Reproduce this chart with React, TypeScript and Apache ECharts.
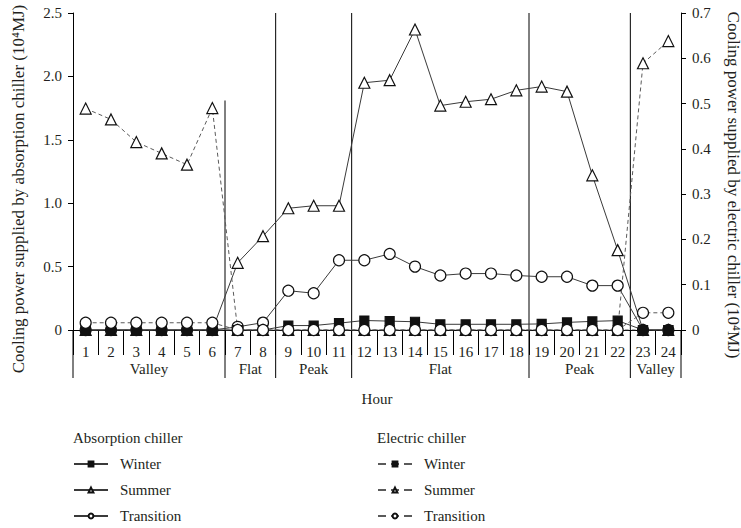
import React, { useEffect, useRef } from 'react';
import * as echarts from 'echarts';

const hours = ['1', '2', '3', '4', '5', '6', '7', '8', '9', '10', '11', '12', '13', '14', '15', '16', '17', '18', '19', '20', '21', '22', '23', '24'];

// Absorption chiller (left axis, 10^4 MJ)
const absWinter = [0, 0, 0, 0, 0, 0, 0, 0, 0.035, 0.035, 0.054, 0.075, 0.07, 0.065, 0.045, 0.045, 0.045, 0.045, 0.048, 0.06, 0.068, 0.074, 0, 0];
const absSummer = [0, 0, 0, 0, 0, 0, 0.53, 0.74, 0.96, 0.98, 0.98, 1.95, 1.97, 2.37, 1.77, 1.8, 1.82, 1.89, 1.92, 1.88, 1.22, 0.63, 0, 0];
const absTransition = [0, 0, 0, 0, 0, 0, 0.025, 0.058, 0.31, 0.29, 0.55, 0.55, 0.6, 0.5, 0.43, 0.445, 0.445, 0.43, 0.42, 0.42, 0.35, 0.35, 0, 0];

// Electric chiller (right axis, 10^4 MJ)
const elecWinter = [0, 0, 0, 0, 0, 0, 0, 0, 0, 0, 0, 0, 0, 0, 0, 0, 0, 0, 0, 0, 0, 0, 0, 0];
const elecSummer = [0.489, 0.465, 0.415, 0.39, 0.365, 0.49, 0, 0, 0, 0, 0, 0, 0, 0, 0, 0, 0, 0, 0, 0, 0, 0, 0.589, 0.638];
const elecTransition = [0.016, 0.016, 0.016, 0.016, 0.016, 0.016, 0, 0, 0, 0, 0, 0, 0, 0, 0, 0, 0, 0, 0, 0, 0, 0, 0.038, 0.038];

// Tariff periods
const periodBounds = [0, 6, 8, 11, 18, 22, 24];
const periodLabels = ['Valley', 'Flat', 'Peak', 'Flat', 'Peak', 'Valley'];
const periodLineTop = [0, 1.81, 2.5, 2.5, 2.5, 2.5];

const leftTicks = { min: 0, max: 2.5, interval: 0.5 };
const rightTicks = { min: 0, max: 0.7, interval: 0.1 };

const leftTitle = 'Cooling power supplied by absorption chiller (10⁴MJ)';
const rightTitle = 'Cooling power supplied by electric chiller (10⁴MJ)';

const FONT = '"Liberation Serif", "DejaVu Serif", serif';
const TXT = '#231f20';
const FS = 15;

export default function App() {
  const ref = useRef<HTMLDivElement>(null);

  useEffect(() => {
    document.body.style.margin = '0';
    if (!ref.current) return;
    const chart = echarts.init(ref.current, undefined, { renderer: 'svg' });

    const solid = { type: 'solid', width: 1, color: '#3a3a3a' };
    const dashed = { type: [4, 3], width: 1, color: '#5a5a5a' };

    const mk = (name: string, data: number[], yAxisIndex: number, symbol: string, fill: string, size: number, lineStyle: any) => ({
      name,
      type: 'line',
      xAxisIndex: 0,
      yAxisIndex,
      data,
      symbol,
      symbolSize: size,
      showSymbol: true,
      showAllSymbol: true,
      lineStyle,
      itemStyle: { color: fill, borderColor: '#111', borderWidth: 1.2 },
      emphasis: { disabled: true },
      silent: true,
    });

    const periodData = periodLabels.map((_, i) => [periodBounds[i], periodBounds[i + 1], periodLineTop[i]]);

    const legendBase = {
      top: 456,
      orient: 'vertical',
      padding: 0,
      itemWidth: 34,
      itemHeight: 6,
      itemGap: 10,
      selectedMode: false,
      textStyle: { fontSize: FS, color: TXT, fontFamily: FONT, lineHeight: 16, padding: [0, 0, 0, 7] },
    };

    const option: any = {
      animation: false,
      textStyle: { fontFamily: FONT, color: TXT },
      grid: { left: 73, right: 60, top: 13, bottom: 198, containLabel: false },
      xAxis: [
        {
          type: 'category',
          data: hours,
          boundaryGap: true,
          name: 'Hour',
          nameLocation: 'middle',
          nameGap: 61,
          nameTextStyle: { fontSize: FS, color: TXT, fontFamily: FONT },
          axisLine: { show: true, onZero: false, lineStyle: { color: '#000', width: 1 } },
          axisTick: { show: true, length: 25, interval: 0, lineStyle: { color: '#000', width: 1 } },
          axisLabel: { interval: 0, margin: 14, fontSize: FS, color: TXT, fontFamily: FONT },
          splitLine: { show: false },
        },
        { type: 'value', min: 0, max: 24, show: false },
      ],
      yAxis: [
        {
          type: 'value',
          ...leftTicks,
          position: 'left',
          axisLine: { show: true, lineStyle: { color: '#000', width: 1 } },
          axisTick: { show: true, length: 5, lineStyle: { color: '#000' } },
          axisLabel: { margin: 11, fontSize: FS, color: TXT, fontFamily: FONT, formatter: (v: number) => (v === 0 ? '0' : v.toFixed(1)) },
          splitLine: { show: false },
        },
        {
          type: 'value',
          ...rightTicks,
          position: 'right',
          axisLine: { show: true, lineStyle: { color: '#000', width: 1 } },
          axisTick: { show: true, length: 5, lineStyle: { color: '#000' } },
          axisLabel: { margin: 11, fontSize: FS, color: TXT, fontFamily: FONT, formatter: (v: number) => (v === 0 ? '0' : v.toFixed(1)) },
          splitLine: { show: false },
        },
      ],
      legend: [
        {
          ...legendBase,
          data: ['Absorption Winter', 'Absorption Summer', 'Absorption Transition'],
          left: 73,
          formatter: (n: string) => n.replace(/^Absorption /, ''),
        },
        {
          ...legendBase,
          data: ['Electric Winter', 'Electric Summer', 'Electric Transition'],
          left: 377,
          lineStyle: { type: [8, 5] },
          formatter: (n: string) => n.replace(/^Electric /, ''),
        },
      ],
      graphic: [
        { type: 'text', left: 73, top: 430, style: { text: 'Absorption chiller', fontSize: FS, fill: TXT, fontFamily: FONT } },
        { type: 'text', left: 377, top: 430, style: { text: 'Electric chiller', fontSize: FS, fill: TXT, fontFamily: FONT } },
        {
          type: 'text', x: 18, y: 189, rotation: Math.PI / 2,
          style: { text: leftTitle, fontSize: 17, fill: TXT, fontFamily: FONT, align: 'center', verticalAlign: 'middle' },
        },
        {
          type: 'text', x: 733, y: 185, rotation: -Math.PI / 2,
          style: { text: rightTitle, fontSize: 17, fill: TXT, fontFamily: FONT, align: 'center', verticalAlign: 'middle' },
        },
      ],
      series: [
        {
          name: 'periods',
          type: 'custom',
          xAxisIndex: 1,
          yAxisIndex: 0,
          silent: true,
          clip: false,
          z: 1,
          encode: { x: [0, 1], y: 2 },
          data: periodData,
          renderItem: (params: any, api: any) => {
            const start = api.value(0);
            const end = api.value(1);
            const top = api.value(2);
            const p0 = api.coord([start, 0]);
            const p1 = api.coord([end, 0]);
            const children: any[] = [];
            const ls = { stroke: '#000', lineWidth: 1 };
            children.push({ type: 'line', shape: { x1: p0[0], y1: p0[1], x2: p0[0], y2: p0[1] + 48 }, style: ls });
            if (params.dataIndex === periodLabels.length - 1) {
              children.push({ type: 'line', shape: { x1: p1[0], y1: p1[1], x2: p1[0], y2: p1[1] + 48 }, style: ls });
            }
            if (top > 0) {
              const pt = api.coord([start, top]);
              children.push({ type: 'line', shape: { x1: pt[0], y1: pt[1], x2: p0[0], y2: p0[1] }, style: ls });
            }
            children.push({
              type: 'text',
              style: {
                text: periodLabels[params.dataIndex],
                x: (p0[0] + p1[0]) / 2,
                y: p0[1] + 39,
                align: 'center',
                verticalAlign: 'middle',
                fontSize: FS,
                fontFamily: FONT,
                fill: TXT,
              },
            });
            return { type: 'group', children };
          },
        },
        mk('Absorption Summer', absSummer, 0, 'triangle', '#fff', 11, solid),
        mk('Absorption Transition', absTransition, 0, 'circle', '#fff', 11, solid),
        mk('Electric Summer', elecSummer, 1, 'triangle', '#fff', 11, dashed),
        mk('Absorption Winter', absWinter, 0, 'rect', '#111', 9, solid),
        mk('Electric Winter', elecWinter, 1, 'rect', '#111', 9, dashed),
        mk('Electric Transition', elecTransition, 1, 'circle', '#fff', 11, dashed),
      ],
    };

    chart.setOption(option);
    return () => chart.dispose();
  }, []);

  return <div ref={ref} style={{ width: 741, height: 528, position: 'absolute', left: 0, top: 0 }} />;
}
